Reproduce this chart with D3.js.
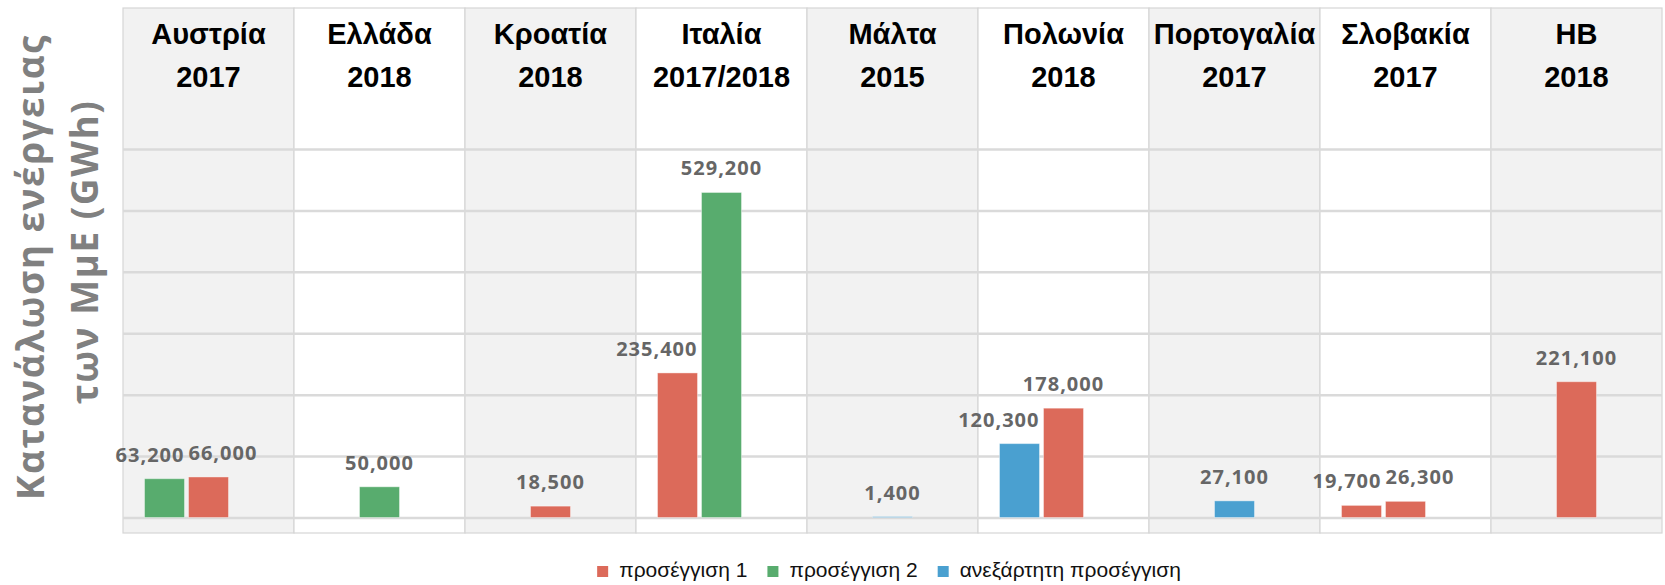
<!DOCTYPE html>
<html>
<head>
<meta charset="utf-8">
<script src="https://cdnjs.cloudflare.com/ajax/libs/d3/7.8.5/d3.min.js"></script>
<style>
  body { margin: 0; background: #fff; }
  .hdr { font-family: 'Liberation Sans', Arial, sans-serif; font-weight: bold; font-size: 29px; fill: #000; }
  .lbl { font-family: 'Open Sans', sans-serif; font-weight: bold; font-size: 20px; fill: #666; letter-spacing: 1px; }
  .ttl { font-family: 'Open Sans', sans-serif; font-weight: bold; font-size: 37px; fill: #808080; letter-spacing: 1.5px; }
  .leg { font-family: 'Liberation Sans', Arial, sans-serif; font-size: 21px; fill: #111; }
</style>
</head>
<body>
<div id="graf"></div>
<script>
// χώρες και έτη
const countries = ['Αυστρία', 'Ελλάδα', 'Κροατία', 'Ιταλία', 'Μάλτα', 'Πολωνία', 'Πορτογαλία', 'Σλοβακία', 'ΗΒ']
const years = ['2017', '2018', '2018', '2017/2018', '2015', '2018', '2017', '2017', '2018']

const seriesNames = ['προσέγγιση 1', 'προσέγγιση 2', 'ανεξάρτητη προσέγγιση']
const seriesColors = ['#dc6a5a', '#58ac6e', '#4aa0d0']

// τιμές ανά χώρα (GWh) και σε ποια σειρά ανήκει κάθε ράβδος
const barValues = [[63200, 66000], [50000], [18500], [235400, 529200], [1400], [120300, 178000], [27100], [19700, 26300], [221100]]
const barSeries = [[1, 0], [1], [0], [0, 1], [2], [2, 0], [2], [0, 0], [0]]

const yTicks = [0, 100000, 200000, 300000, 400000, 500000, 600000]

const anchoTotal = 1665
const altoTotal = 585

const svg = d3.select('#graf')
  .append('svg')
  .attr('width', anchoTotal)
  .attr('height', altoTotal)

const x = d3.scaleBand()
  .domain(countries)
  .range([123, 1662])

const y = d3.scaleLinear()
  .domain([0, 600000])
  .range([517.5, 149])

const panelTop = 8
const panelBottom = 533
const barStep = 44

// panels
svg.append('g')
  .selectAll('rect')
  .data(countries)
  .enter()
  .append('rect')
  .attr('x', d => x(d))
  .attr('y', panelTop)
  .attr('width', x.bandwidth())
  .attr('height', panelBottom - panelTop)
  .attr('fill', (d, i) => i % 2 === 0 ? '#f2f2f2' : '#ffffff')
  .attr('stroke', '#d6d6d6')
  .attr('stroke-width', 1.2)

// gridlines
const grid = svg.append('g')
  .attr('transform', `translate(${x.range()[0]}, 0)`)
  .call(
    d3.axisLeft(y)
      .tickValues(yTicks)
      .tickSize(-(x.range()[1] - x.range()[0]))
      .tickFormat('')
  )
grid.select('.domain').remove()
grid.selectAll('line')
  .attr('stroke', '#dadada')
  .attr('stroke-width', 2.5)

// header texts
const hdr = svg.append('g')
hdr.selectAll('.pais')
  .data(countries)
  .enter()
  .append('text')
  .attr('class', 'hdr pais')
  .attr('x', d => x(d) + x.bandwidth() / 2)
  .attr('y', 44)
  .attr('text-anchor', 'middle')
  .text(d => d)
hdr.selectAll('.anio')
  .data(years)
  .enter()
  .append('text')
  .attr('class', 'hdr anio')
  .attr('x', (d, i) => x(countries[i]) + x.bandwidth() / 2)
  .attr('y', 87)
  .attr('text-anchor', 'middle')
  .text(d => d)

// bars: the last bar of each group sits at the panel centre, the others to its left
const bars = []
countries.forEach((c, i) => {
  const n = barValues[i].length
  const sub = d3.scaleBand()
    .domain(d3.range(n))
    .range([-(n - 1) * barStep - barStep / 2, barStep / 2])
    .paddingInner(4 / barStep)
    .paddingOuter(2 / barStep)
  barValues[i].forEach((v, j) => {
    bars.push({
      country: c,
      value: v,
      serie: barSeries[i][j],
      x0: x(c) + x.bandwidth() / 2 + sub(j),
      w: sub.bandwidth(),
      idx: j,
      n: n,
      other: n > 1 ? barValues[i][1 - j] : null
    })
  })
})

svg.append('g')
  .selectAll('rect')
  .data(bars)
  .enter()
  .append('rect')
  .attr('x', d => d.x0)
  .attr('y', d => y(d.value))
  .attr('width', d => d.w)
  .attr('height', d => y(0) - y(d.value))
  .attr('fill', d => seriesColors[d.serie])
  .attr('stroke', '#ffffff')
  .attr('stroke-opacity', 0.4)
  .attr('stroke-width', 1)

// value labels: paired labels are pushed apart when they would collide
const collide = d => d.n > 1 && Math.abs(y(d.value) - y(d.other)) < 24
svg.append('g')
  .selectAll('text')
  .data(bars)
  .enter()
  .append('text')
  .attr('class', 'lbl')
  .attr('x', d => {
    if (d.n > 1 && d.idx === 0) return d.x0 + d.w
    if (collide(d)) return d.x0
    return d.x0 + d.w / 2
  })
  .attr('y', d => y(d.value) - 17)
  .attr('text-anchor', d => {
    if (d.n > 1 && d.idx === 0) return 'end'
    if (collide(d)) return 'start'
    return 'middle'
  })
  .text(d => d3.format(',')(d.value))

// y axis title
svg.append('text')
  .attr('class', 'ttl')
  .attr('transform', 'translate(44, 267) rotate(-90)')
  .attr('text-anchor', 'middle')
  .text('Κατανάλωση ενέργειας')
svg.append('text')
  .attr('class', 'ttl')
  .attr('transform', 'translate(98, 252) rotate(-90)')
  .attr('text-anchor', 'middle')
  .text('των ΜμΕ (GWh)')

// legend
const leg = svg.append('g')
let cursor = 0
seriesNames.forEach((s, i) => {
  const g = leg.append('g')
  g.append('rect')
    .attr('x', 0)
    .attr('y', -11)
    .attr('width', 11)
    .attr('height', 11)
    .attr('fill', seriesColors[i])
  const t = g.append('text')
    .attr('class', 'leg')
    .attr('x', 22)
    .attr('y', 0)
    .text(s)
  const w = 22 + t.node().getComputedTextLength()
  g.attr('transform', `translate(${cursor}, 577)`)
  cursor += w + 20
})
const legW = cursor - 20
leg.attr('transform', `translate(${889 - legW / 2}, 0)`)
</script>
</body>
</html>
